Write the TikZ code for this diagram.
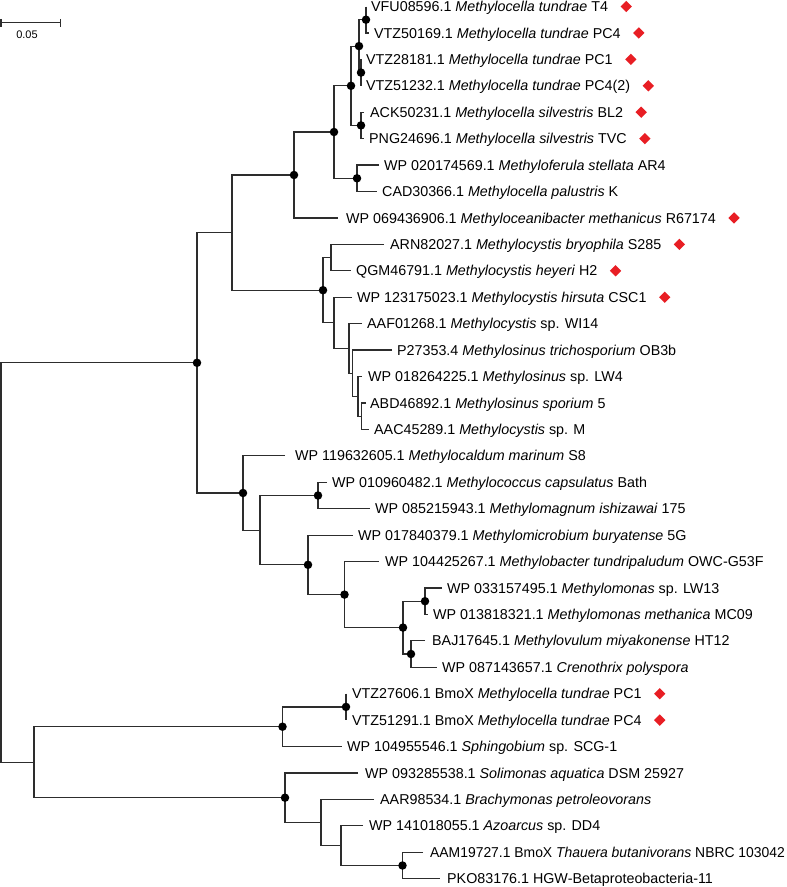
\documentclass[tikz,border=0pt]{standalone}
\usepackage{fontspec}
\setmainfont{Liberation Sans}
\usetikzlibrary{shapes.geometric,calc}
\definecolor{hitred}{RGB}{232,30,36}
\definecolor{branchgray}{RGB}{45,45,45}
\newcommand\mkleaf[5][]{%
  \coordinate (t#2) at (#3,{6.5+26.43*(#2-1)});
  \node[tiplab,#1] (L#2) at (#4,{6.5+26.43*(#2-1)}) {#5};}
\newcommand\mkclade[3]{\draw[branch] (#2) -| (#1) |- (#3);}
\newcommand\mkhit[1]{\node[hit] (D#1) at ($(L#1.east |- t#1)+(18,0)$) {};}
\begin{document}
\begin{tikzpicture}[x=1pt,y=-1pt,
  branch/.style={draw=branchgray,line width=1.2pt},
  tiplab/.style={anchor=base west,inner sep=0pt,yshift=-5.1pt,font=\fontsize{14.3}{17}\selectfont},
  hit/.style={diamond,fill=hitred,inner sep=0pt,minimum width=11.5pt,minimum height=11.5pt},
  bdot/.style={circle,fill=black,inner sep=0pt,minimum size=8.5pt},
  scalelab/.style={inner sep=0pt,font=\fontsize{11}{13}\selectfont}]
\useasboundingbox (0,0) rectangle (787,887);

% scale bar
\coordinate (sbL) at (1,22.7);
\coordinate (sbR) at (60.7,22.7);
\draw[branch] (sbL) -- (sbR);
\draw[branch] ($(sbL)+(0,-3.8)$) -- ($(sbL)+(0,3.8)$);
\draw[branch] ($(sbR)+(0,-3.8)$) -- ($(sbR)+(0,3.8)$);
\node[scalelab] (sblab) at (27,35) {0.05};

% leaves
\mkleaf{1}{366}{371}{VFU08596.1 \textit{Methylocella tundrae} T4}
\mkleaf{2}{368.5}{374}{VTZ50169.1 \textit{Methylocella tundrae} PC4}
\mkleaf{3}{361}{366}{VTZ28181.1 \textit{Methylocella tundrae} PC1}
\mkleaf{4}{361}{366}{VTZ51232.1 \textit{Methylocella tundrae} PC4(2)}
\mkleaf{5}{364}{370}{ACK50231.1 \textit{Methylocella silvestris} BL2}
\mkleaf{6}{364}{369}{PNG24696.1 \textit{Methylocella silvestris} TVC}
\mkleaf{7}{379}{384}{WP 020174569.1 \textit{Methyloferula stellata} AR4}
\mkleaf{8}{377}{382}{CAD30366.1 \textit{Methylocella palustris} K}
\mkleaf{9}{338}{346}{WP 069436906.1 \textit{Methyloceanibacter methanicus} R67174}
\mkleaf{10}{384}{390}{ARN82027.1 \textit{Methylocystis bryophila} S285}
\mkleaf{11}{351}{356}{QGM46791.1 \textit{Methylocystis heyeri} H2}
\mkleaf{12}{352}{357}{WP 123175023.1 \textit{Methylocystis hirsuta} CSC1}
\mkleaf{13}{362}{367}{AAF01268.1 \textit{Methylocystis} sp. WI14}
\mkleaf{14}{392}{397}{P27353.4 \textit{Methylosinus trichosporium} OB3b}
\mkleaf{15}{362}{368}{WP 018264225.1 \textit{Methylosinus} sp. LW4}
\mkleaf{16}{366}{370}{ABD46892.1 \textit{Methylosinus sporium} 5}
\mkleaf{17}{369}{374}{AAC45289.1 \textit{Methylocystis} sp. M}
\mkleaf{18}{285}{295}{WP 119632605.1 \textit{Methylocaldum marinum} S8}
\mkleaf{19}{327}{332}{WP 010960482.1 \textit{Methylococcus capsulatus} Bath}
\mkleaf{20}{370}{375}{WP 085215943.1 \textit{Methylomagnum ishizawai} 175}
\mkleaf{21}{353}{358}{WP 017840379.1 \textit{Methylomicrobium buryatense} 5G}
\mkleaf{22}{379}{385}{WP 104425267.1 \textit{Methylobacter tundripaludum} OWC-G53F}
\mkleaf{23}{442}{447}{WP 033157495.1 \textit{Methylomonas} sp. LW13}
\mkleaf{24}{428}{433}{WP 013818321.1 \textit{Methylomonas methanica} MC09}
\mkleaf{25}{425}{432}{BAJ17645.1 \textit{Methylovulum miyakonense} HT12}
\mkleaf{26}{437}{442}{WP 087143657.1 \textit{Crenothrix polyspora}}
\mkleaf{27}{346}{352}{VTZ27606.1 BmoX \textit{Methylocella tundrae} PC1}
\mkleaf{28}{346}{352}{VTZ51291.1 BmoX \textit{Methylocella tundrae} PC4}
\mkleaf{29}{342}{347}{WP 104955546.1 \textit{Sphingobium} sp. SCG-1}
\mkleaf{30}{358}{365}{WP 093285538.1 \textit{Solimonas aquatica} DSM 25927}
\mkleaf{31}{374}{380}{AAR98534.1 \textit{Brachymonas petroleovorans}}
\mkleaf{32}{363}{369}{WP 141018055.1 \textit{Azoarcus} sp. DD4}
\mkleaf[xscale=0.972,transform shape]{33}{423}{430}{AAM19727.1 BmoX \textit{Thauera butanivorans} NBRC 103042}
\mkleaf{34}{440}{447}{PKO83176.1 HGW-Betaproteobacteria-11}

% internal nodes
\coordinate (root) at (1,562.5);
\coordinate (ING) at (197,362.8);
\coordinate (ALPHA) at (232,232.6);
\coordinate (A1) at (294,175.0);
\coordinate (A2) at (334,132.0);
\coordinate (A3) at (351,85.8);
\coordinate (A4) at (359,46.1);
\coordinate (A5) at (366,19.7);
\coordinate (A6) at (361,72.6);
\coordinate (A7) at (361,125.4);
\coordinate (A8) at (357,178.3);
\coordinate (M1) at (323,290.2);
\coordinate (M2) at (331,257.6);
\coordinate (M3) at (334,322.8);
\coordinate (M4) at (349,348.4);
\coordinate (M5) at (352.5,373.2);
\coordinate (M6) at (358,396.3);
\coordinate (M7) at (361.7,416.2);
\coordinate (G1) at (243,493.0);
\coordinate (G2) at (260,530.1);
\coordinate (G3) at (318,495.5);
\coordinate (G4) at (308,564.8);
\coordinate (G5) at (344.5,594.6);
\coordinate (G6) at (403,627.6);
\coordinate (G7) at (425,601.2);
\coordinate (G8) at (411,654.0);
\coordinate (B1) at (34,762.2);
\coordinate (B2) at (282.5,726.7);
\coordinate (B3) at (346,706.9);
\coordinate (B4) at (285,797.7);
\coordinate (B5) at (321,822.5);
\coordinate (B6) at (341,845.7);
\coordinate (B7) at (402.5,865.5);

% branches
\mkclade{root}{ING}{B1}
\mkclade{ING}{ALPHA}{G1}
\mkclade{ALPHA}{A1}{M1}
\mkclade{A1}{A2}{t9}
\mkclade{A2}{A3}{A8}
\mkclade{A3}{A4}{A7}
\mkclade{A4}{A5}{A6}
\mkclade{A5}{t1}{t2}
\mkclade{A6}{t3}{t4}
\mkclade{A7}{t5}{t6}
\mkclade{A8}{t7}{t8}
\mkclade{M1}{M2}{M3}
\mkclade{M2}{t10}{t11}
\mkclade{M3}{t12}{M4}
\mkclade{M4}{t13}{M5}
\mkclade{M5}{t14}{M6}
\mkclade{M6}{t15}{M7}
\mkclade{M7}{t16}{t17}
\mkclade{G1}{t18}{G2}
\mkclade{G2}{G3}{G4}
\mkclade{G3}{t19}{t20}
\mkclade{G4}{t21}{G5}
\mkclade{G5}{t22}{G6}
\mkclade{G6}{G7}{G8}
\mkclade{G7}{t23}{t24}
\mkclade{G8}{t25}{t26}
\mkclade{B1}{B2}{B4}
\mkclade{B2}{B3}{t29}
\mkclade{B3}{t27}{t28}
\mkclade{B4}{t30}{B5}
\mkclade{B5}{t31}{B6}
\mkclade{B6}{t32}{B7}
\mkclade{B7}{t33}{t34}

% support dots
\foreach \n in {A1,A2,A3,A4,A5,A6,A7,A8,M1,ING,G1,G3,G4,G5,G6,G7,G8,B2,B3,B4,B7}
  {\node[bdot] (dot\n) at (\n) {};}

% red diamonds
\foreach \i in {1,2,3,4,5,6,9,10,11,12,27,28}
  {\mkhit{\i}}
\end{tikzpicture}
\end{document}
